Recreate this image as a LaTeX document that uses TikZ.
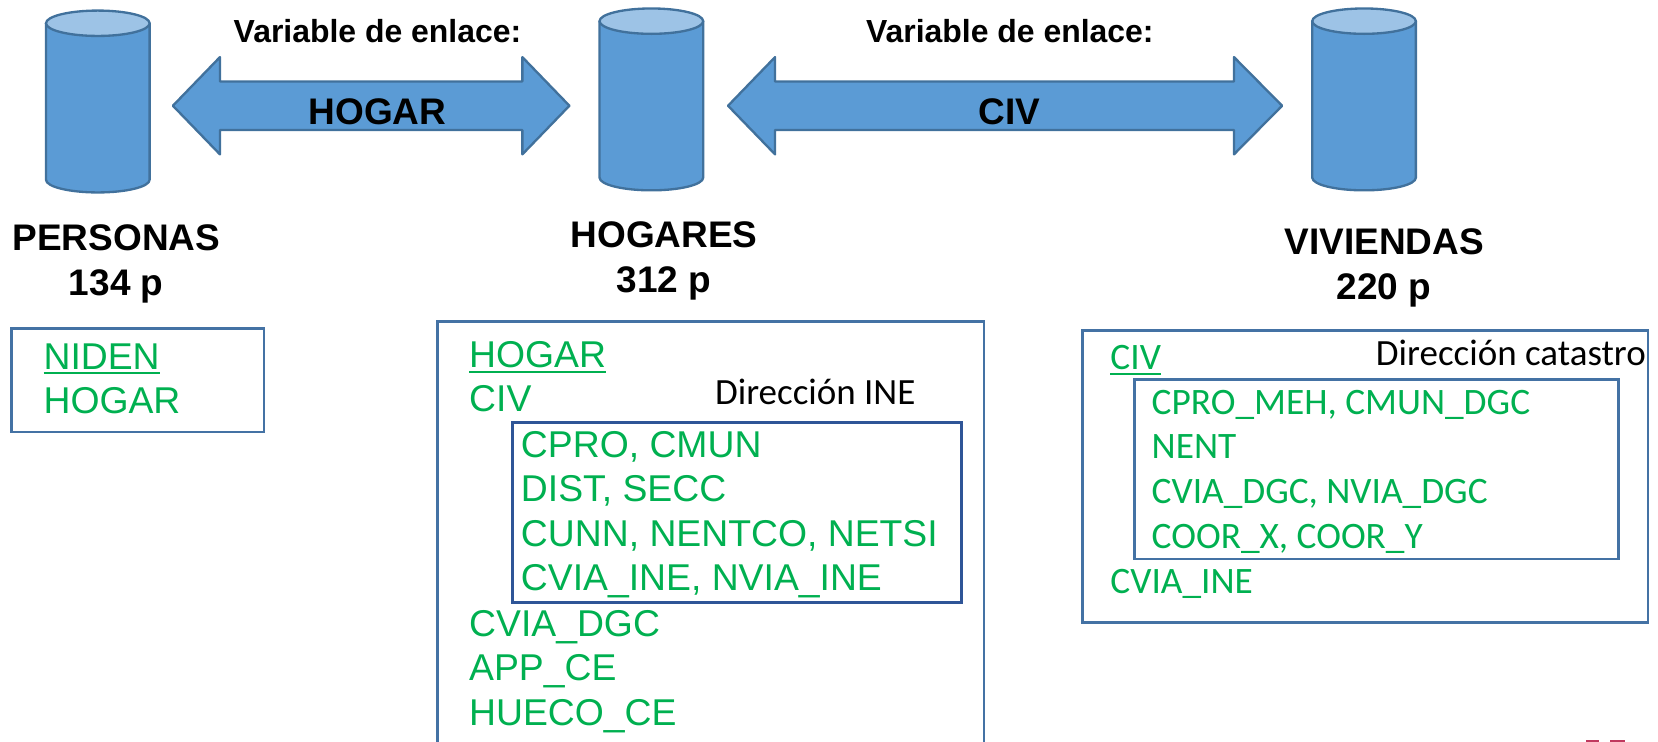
\documentclass[tikz,border=0pt]{standalone}
\usepackage{fontspec}
\setmainfont{Liberation Sans}
\newfontfamily\calfont{Carlito}
\definecolor{fillblue}{HTML}{5B9BD5}
\definecolor{capblue}{HTML}{9DC3E6}
\definecolor{lineblue}{HTML}{41719C}
\definecolor{boxblue}{HTML}{4472A4}
\definecolor{innerblue}{HTML}{2F5597}
\definecolor{vargreen}{HTML}{00B050}
\definecolor{pagered}{HTML}{C0395F}
\newcommand{\sz}[1]{\fontsize{#1}{#1}\selectfont}
\newcommand{\ulvar}[1]{\setbox0\hbox{#1}\rlap{\rule[-5pt]{\wd0}{2pt}}\box0}
\tikzset{
  x=1pt,y=-1pt,
  shapeline/.style={draw=lineblue,line width=2.2pt,fill=fillblue,line join=round},
  capline/.style={draw=lineblue,line width=2.2pt,fill=capblue},
  outerbox/.style={draw=boxblue,line width=2.4pt},
  innerbox/.style={draw=innerblue,line width=2.4pt},
  title/.style={font=\bfseries\sz{35},align=center,inner sep=0pt,text height=24pt,text depth=7pt},
  linklabel/.style={font=\bfseries\sz{30.2},inner sep=0pt,anchor=base},
  arrowlabel/.style={font=\bfseries\sz{35},inner sep=0pt,anchor=base},
  arialvar/.style={font=\sz{35.3},text=vargreen,inner sep=0pt,anchor=base west},
  calvar/.style={font=\calfont\sz{35.3},text=vargreen,inner sep=0pt,anchor=base west},
  caption/.style={font=\calfont\sz{35},text=black,inner sep=0pt,anchor=base west},
  cyl/.pic={
    \path[shapeline] (-49,12) -- (-49,160) arc[start angle=180,end angle=0,x radius=49,y radius=12] -- (49,12) -- cycle;
    \path[capline] (0,12) ellipse[x radius=49,y radius=12];
  }
}
\begin{document}
\begin{tikzpicture}
\useasboundingbox (0,0) rectangle (1568,701.7);
\pic at (92.5,10) {cyl};
\pic at (616,8) {cyl};
\pic at (1290,8) {cyl};
\path[shapeline] (163.5,100) -- (208,54) -- (208,77) -- (494,77) -- (494,54) -- (538.5,100) -- (494,146) -- (494,123) -- (208,123) -- (208,146) -- cycle;
\path[shapeline] (688.5,100) -- (733,54) -- (733,77) -- (1167,77) -- (1167,54) -- (1212.5,100) -- (1167,146) -- (1167,123) -- (733,123) -- (733,146) -- cycle;
\node[linklabel] (var1) at (357,40) {Variable de enlace:};
\node[linklabel] (var2) at (955,40) {Variable de enlace:};
\node[arrowlabel] (hogarlink) at (357,118) {HOGAR};
\node[arrowlabel] (civlink) at (955,118) {CIV};
\node[title] (personas) at (110,228.5) {PERSONAS};
\node[title] (personasp) at (110,271) {134 p};
\node[title] (hogares) at (628,226) {HOGARES};
\node[title] (hogaresp) at (628,268) {312 p};
\node[title] (viviendas) at (1309,232) {VIVIENDAS};
\node[title] (viviendasp) at (1309,274.5) {220 p};
% box 1
\node[outerbox,draw,anchor=north west,minimum width=239pt,minimum height=98pt,inner sep=0pt] (box1) at (9.5,309.5) {};
\node[arialvar] (niden) at (41,349) {\ulvar{NIDEN}};
\node[arialvar] (hogar1) at (41,391) {HOGAR};
% box 2
\draw[outerbox] (413.5,702) -- (413.5,304) -- (930.5,304) -- (930.5,702);
\node[innerbox,draw,anchor=north west,minimum width=424.5pt,minimum height=170pt,inner sep=0pt] (inner2) at (483.5,398.5) {};
\node[arialvar] (hogar2) at (443.5,348) {\ulvar{HOGAR}};
\node[arialvar] (civ2) at (443.5,389) {CIV};
\node[caption] (dirine) at (676,383) {Dirección INE};
\node[arialvar] (cpro) at (492.5,433) {CPRO, CMUN};
\node[arialvar] (dist) at (492.5,474) {DIST, SECC};
\node[arialvar] (cunn) at (492.5,517) {CUNN, NENTCO, NETSI};
\node[arialvar] (cviaine) at (492.5,558) {CVIA\_INE, NVIA\_INE};
\node[arialvar] (cviadgc) at (443.5,602) {CVIA\_DGC};
\node[arialvar] (app) at (443.5,644) {APP\_CE};
\node[arialvar] (hueco) at (443.5,686) {HUECO\_CE};
% box 3
\node[outerbox,draw,anchor=north west,minimum width=535pt,minimum height=276pt,inner sep=0pt] (box3) at (1022.5,311.5) {};
\node[innerbox,draw=boxblue,anchor=north west,minimum width=458pt,minimum height=170pt,inner sep=0pt] (inner3) at (1071.5,357.5) {};
\node[calvar] (civ3) at (1050,349.5) {\ulvar{CIV}};
\node[caption] (dircat) at (1301,346) {Dirección catastro};
\node[calvar] (cprom) at (1089,392) {CPRO\_MEH, CMUN\_DGC};
\node[calvar] (nent) at (1089,434) {NENT};
\node[calvar] (cviad) at (1089,476) {CVIA\_DGC, NVIA\_DGC};
\node[calvar] (coor) at (1089,519) {COOR\_X, COOR\_Y};
\node[calvar] (cviai) at (1050,561) {CVIA\_INE};
% page number remnants
\fill[pagered] (1500,700) rectangle (1512,702);
\fill[pagered] (1523,700) rectangle (1537,702);
\end{tikzpicture}
\end{document}
